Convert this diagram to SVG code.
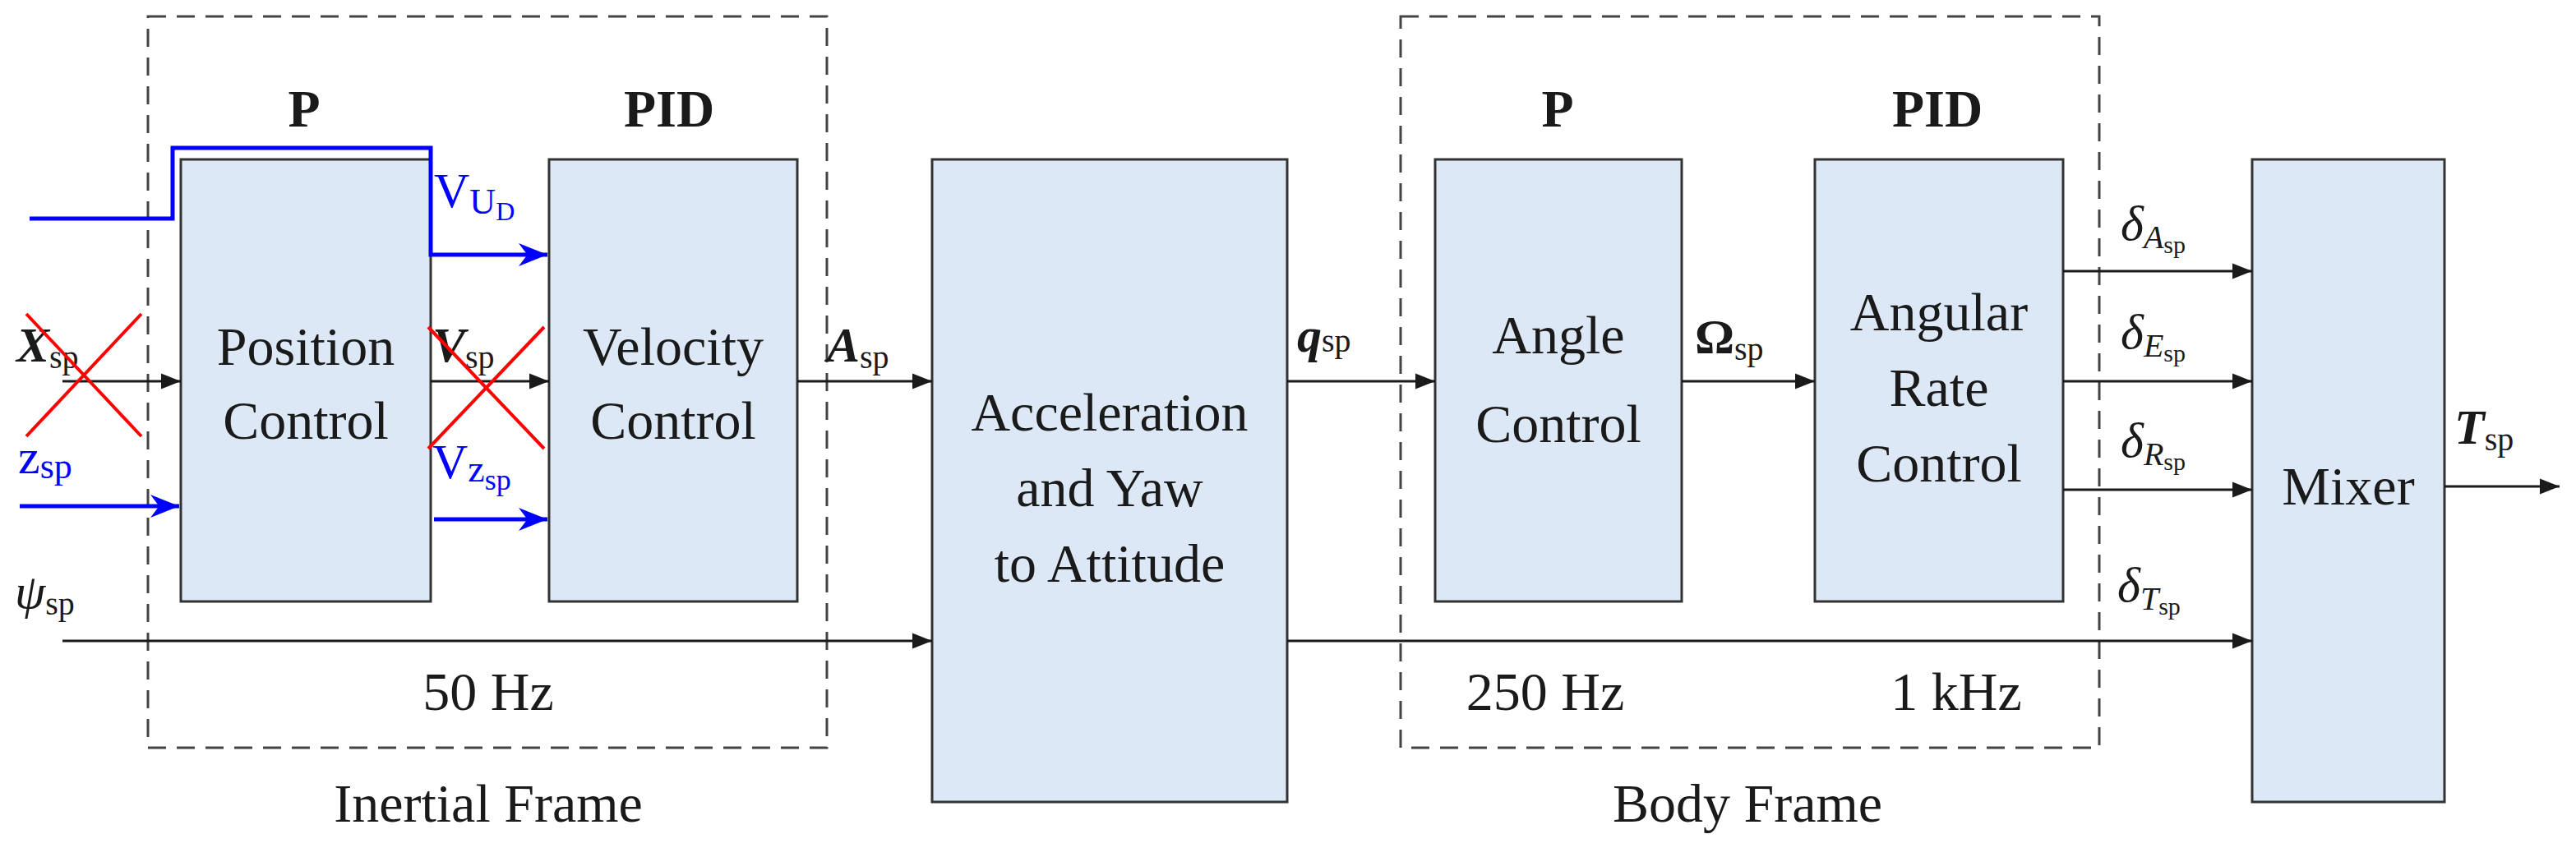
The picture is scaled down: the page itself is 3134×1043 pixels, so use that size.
<svg xmlns="http://www.w3.org/2000/svg" width="3134" height="1043" viewBox="0 0 3134 1043">
<style>
text{font-family:"Liberation Serif",serif;fill:#1a1a1a}
.blk{fill:#dce8f5;stroke:#333;stroke-width:3}
.t{font-size:66px;text-anchor:middle}
.h{font-size:64px;font-weight:bold;text-anchor:middle}
.lab{font-size:60px}
.sub{font-size:40px}
.dash{fill:none;stroke:#444;stroke-width:3;stroke-dasharray:22 13}
.ln{fill:none;stroke:#1a1a1a;stroke-width:3}
.bl{fill:none;stroke:#0000ff;stroke-width:5}
.red{stroke:#ff0000;stroke-width:4}
.bt{fill:#0000ff;font-size:60px}
</style>
<defs>
<marker id="a" viewBox="0 0 10 10" refX="10" refY="5" markerWidth="8" markerHeight="8" orient="auto"><path d="M0,1 L10,5 L0,9 Z" fill="#1a1a1a"/></marker>
<marker id="b" viewBox="0 0 10 10" refX="10" refY="5" markerWidth="7" markerHeight="7" orient="auto"><path d="M0,1 L10,5 L0,9 L3,5 Z" fill="#0000ff"/></marker>
</defs>
<rect class="dash" x="180" y="20" width="826" height="890"/>
<rect class="dash" x="1704" y="20" width="850" height="890"/>
<text class="h" x="370" y="154">P</text>
<text class="h" x="814" y="154">PID</text>
<text class="h" x="1895" y="154">P</text>
<text class="h" x="2357" y="154">PID</text>
<text class="t" x="594" y="864">50 Hz</text>
<text class="t" x="1880" y="864">250 Hz</text>
<text class="t" x="2380" y="864">1 kHz</text>
<text class="t" x="594" y="1000">Inertial Frame</text>
<text class="t" x="2126" y="1000">Body Frame</text>
<g id="pos"><rect class="blk" x="220" y="194" width="304" height="538"/><text class="t" x="372" y="444">Position</text><text class="t" x="372" y="534">Control</text></g>
<g id="vel"><rect class="blk" x="668" y="194" width="302" height="538"/><text class="t" x="819" y="444">Velocity</text><text class="t" x="819" y="534">Control</text></g>
<g id="acc"><rect class="blk" x="1134" y="194" width="432" height="782"/><text class="t" x="1350" y="524">Acceleration</text><text class="t" x="1350" y="616">and Yaw</text><text class="t" x="1350" y="708">to Attitude</text></g>
<g id="ang"><rect class="blk" x="1746" y="194" width="300" height="538"/><text class="t" x="1896" y="430">Angle</text><text class="t" x="1896" y="538">Control</text></g>
<g id="rate"><rect class="blk" x="2208" y="194" width="302" height="538"/><text class="t" x="2359" y="402">Angular</text><text class="t" x="2359" y="494">Rate</text><text class="t" x="2359" y="586">Control</text></g>
<g id="mix"><rect class="blk" x="2740" y="194" width="234" height="782"/><text class="t" x="2857" y="614">Mixer</text></g>
<g id="connectors">
<path class="ln" d="M76,464 H220" marker-end="url(#a)"/>
<path class="ln" d="M524,464 H668" marker-end="url(#a)"/>
<path class="ln" d="M970,464 H1134" marker-end="url(#a)"/>
<path class="ln" d="M1566,464 H1746" marker-end="url(#a)"/>
<path class="ln" d="M2046,464 H2208" marker-end="url(#a)"/>
<path class="ln" d="M2510,330 H2740" marker-end="url(#a)"/>
<path class="ln" d="M2510,464 H2740" marker-end="url(#a)"/>
<path class="ln" d="M2510,596 H2740" marker-end="url(#a)"/>
<path class="ln" d="M76,780 H1134" marker-end="url(#a)"/>
<path class="ln" d="M1566,780 H2740" marker-end="url(#a)"/>
<path class="ln" d="M2974,592 H3114" marker-end="url(#a)"/>
<path class="bl" d="M36,266 H210 V180 H524 V310 H666" marker-end="url(#b)"/>
<path class="bl" d="M24,616 H218" marker-end="url(#b)"/>
<path class="bl" d="M528,632 H666" marker-end="url(#b)"/>
</g>
<text class="lab" x="20" y="440" font-weight="bold" font-style="italic">X<tspan class="sub" font-weight="normal" font-style="normal" dy="8">sp</tspan></text>
<text class="lab" x="526" y="440" font-weight="bold" font-style="italic">V<tspan class="sub" font-weight="normal" font-style="normal" dy="8">sp</tspan></text>
<text class="lab" x="1006" y="440" font-weight="bold" font-style="italic">A<tspan class="sub" font-weight="normal" font-style="normal" dy="8">sp</tspan></text>
<text class="lab" x="1578" y="428" font-weight="bold" font-style="italic">q<tspan class="sub" font-weight="normal" font-style="normal" dy="0">sp</tspan></text>
<text class="lab" x="2062" y="430" font-weight="bold">Ω<tspan class="sub" font-weight="normal" dy="8">sp</tspan></text>
<text class="lab" x="18" y="740" font-style="italic">ψ<tspan class="sub" font-style="normal" dy="8">sp</tspan></text>
<text class="lab" x="2580" y="292" font-style="italic">δ<tspan class="sub" dy="10">A</tspan><tspan font-size="30" font-style="normal" dy="6">sp</tspan></text>
<text class="lab" x="2580" y="424" font-style="italic">δ<tspan class="sub" dy="10">E</tspan><tspan font-size="30" font-style="normal" dy="6">sp</tspan></text>
<text class="lab" x="2580" y="556" font-style="italic">δ<tspan class="sub" dy="10">R</tspan><tspan font-size="30" font-style="normal" dy="6">sp</tspan></text>
<text class="lab" x="2576" y="732" font-style="italic">δ<tspan class="sub" dy="10">T</tspan><tspan font-size="30" font-style="normal" dy="6">sp</tspan></text>
<text class="lab" x="2986" y="540" font-weight="bold" font-style="italic">T<tspan class="sub" font-weight="normal" font-style="normal" dy="8">sp</tspan></text>
<text class="bt" x="22" y="576">z<tspan font-size="44" dy="6">sp</tspan></text>
<text class="bt" x="528" y="252">V<tspan font-size="44" dy="8">U</tspan><tspan font-size="32" dy="8">D</tspan></text>
<text class="bt" x="526" y="582">V<tspan font-size="46" dy="4">z</tspan><tspan font-size="36" dy="10">sp</tspan></text>
<line class="red" x1="32" y1="382" x2="172" y2="531"/><line class="red" x1="32" y1="531" x2="172" y2="382"/>
<line class="red" x1="521" y1="398" x2="662" y2="546"/><line class="red" x1="521" y1="546" x2="662" y2="398"/>
</svg>
